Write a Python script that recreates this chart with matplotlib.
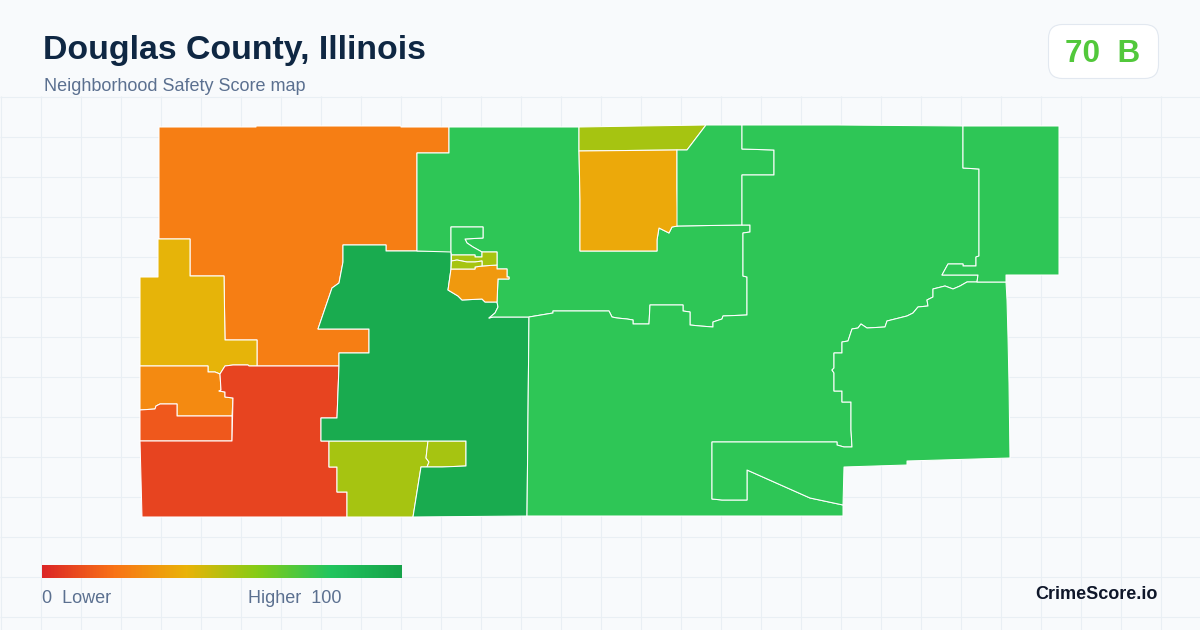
import numpy as np
import matplotlib
matplotlib.use("Agg")
import matplotlib.pyplot as plt
from matplotlib.collections import PolyCollection
from matplotlib.colors import LinearSegmentedColormap, Normalize
from matplotlib.patches import FancyBboxPatch

TITLE = "Douglas County, Illinois"
SUBTITLE = "Neighborhood Safety Score map"
BADGE_SCORE = 70
BADGE_TEXT = "70  B"
BRAND = "CrimeScore.io"

cmap_stops = [0.0, 0.2, 0.4, 0.6, 0.8, 1.0]
cmap_colors = ["#dc2626", "#f97316", "#eab308", "#84cc16", "#22c55e", "#16a34a"]

nw_orange = [(159,127),(256,127),(256,126),(401,126),(401,127),(449,127),(449,153),(417,153),(417,251),(386,251),(386,245),(343,245),(343,262),(339,283),(332,288),(318,329),(369,329),(369,353),(339,353),(339,366),(257,366),(257,340),(225,340),(224,276),(190,276),(190,239),(159,239)]
w_yellow = [(158,239),(190,239),(190,276),(224,276),(225,340),(257,340),(257,366),(249,366),(248,365),(233,365),(225,366),(220,374),(215,372),(208,372),(208,366),(140,366),(140,277),(158,277)]
w_orange = [(140,366),(208,366),(208,372),(215,372),(220,374),(221,390),(219,391),(225,392),(225,397),(233,398),(232,416),(177,416),(177,404),(160,404),(156,406),(155,409),(140,410)]
w_redorange = [(140,410),(155,409),(156,406),(160,404),(177,404),(177,416),(232,416),(232,441),(140,441)]
sw_red = [(140,441),(232,441),(233,398),(225,397),(225,392),(219,391),(221,390),(220,374),(225,366),(233,365),(248,365),(249,366),(339,366),(337,418),(321,418),(321,441),(329,441),(329,467),(337,467),(337,492),(347,492),(347,517),(142,517)]
s_lime_big = [(329,441),(428,441),(426,458),(429,462),(427,467),(421,467),(413,517),(347,517),(347,492),(337,492),(337,467),(329,467)]
s_lime_small = [(428,441),(466,441),(466,466),(442,467),(427,467),(429,462),(426,458)]
center_dark = [(343,245),(386,245),(386,251),(451,251),(451,269),(448,290),(453,293),(458,296),(462,300),(482,299),(485,302),(497,302),(498,307),(495,313),(489,318),(493,317),(529,317),(527,516),(413,517),(421,467),(427,467),(442,467),(466,466),(466,441),(321,441),(321,418),(337,418),(339,366),(339,353),(369,353),(369,329),(318,329),(332,288),(339,283),(343,262)]
north_green = [(417,153),(449,153),(449,127),(579,127),(579,151),(580,200),(580,251),(657,251),(657,240),(659,228),(663,230),(669,233),(672,227),(677,226),(742,225),(750,225),(750,232),(743,233),(743,276),(747,277),(747,315),(723,316),(722,319),(713,322),(713,327),(700,326),(690,325),(690,312),(683,311),(683,305),(650,305),(649,324),(633,324),(633,320),(627,319),(617,318),(612,317),(609,311),(553,311),(553,313),(529,317),(493,317),(489,318),(495,313),(498,307),(497,302),(498,279),(509,279),(509,277),(507,277),(507,269),(497,269),(497,252),(482,252),(473,247),(467,243),(465,239),(483,238),(483,227),(451,227),(451,252),(417,251)]
pocket_green = [(451,227),(483,227),(483,238),(465,239),(467,243),(473,247),(482,252),(482,257),(475,257),(475,255),(451.5,255),(451,252)]
town_orange = [(451,269),(475,269),(475,267),(482,266),(497,265),(497,269),(507,269),(507,277),(509,277),(509,279),(498,279),(497,302),(485,302),(482,299),(462,300),(458,296),(453,293),(448,290)]
town_lime_a = [(451.5,255),(475,255),(475,257),(482,257),(482,252),(497,252),(497,265),(482,266),(482,261),(475,262),(467,262),(457,260),(451.5,261)]
town_lime_b = [(451.5,261),(457,260),(467,262),(475,262),(482,261),(482,266),(475,267),(475,269),(451,269)]
n_lime = [(579,127),(640,126),(706,125),(687,150),(677,150),(579,151)]
n_yellow = [(579,151),(677,150),(677,188),(678,226),(672,227),(669,233),(663,230),(659,228),(657,240),(657,251),(580,251),(580,200)]
n_green2 = [(706,125),(742,125),(742,149),(774,150),(774,175),(742,175),(742,200),(742,225),(677,226),(677,150),(687,150)]
central_green = [(529,317),(553,313),(553,311),(609,311),(612,317),(617,318),(627,319),(633,320),(633,324),(649,324),(650,305),(683,305),(683,311),(690,312),(690,325),(700,326),(713,327),(713,322),(722,319),(723,316),(747,315),(747,277),(743,276),(743,233),(750,232),(750,225),(742,225),(742,175),(774,175),(774,150),(742,149),(742,125),(838,125),(963,126),(963,168),(979,169),(979,256),(976,257),(976,266),(963,266),(963,264),(948,264),(942,275),(978,275),(977,282),(967,282),(960,286),(953,289),(945,286),(937,288),(933,289),(933,297),(927,300),(928,306),(918,307),(913,313),(907,316),(887,321),(885,327),(867,328),(861,324),(858,328),(852,329),(848,341),(842,342),(842,353),(834,353),(834,368),(832,370),(834,373),(834,391),(842,391),(842,402),(851,402),(851,430),(852,447),(844,447),(837,445),(837,442),(712,442),(712,499),(722,500),(747,500),(747,470),(810,498),(843,505),(843,516),(527,516)]
east_green = [(1006,282),(977,282),(967,282),(960,286),(953,289),(945,286),(937,288),(933,289),(933,297),(927,300),(928,306),(918,307),(913,313),(907,316),(887,321),(885,327),(867,328),(861,324),(858,328),(852,329),(848,341),(842,342),(842,353),(834,353),(834,368),(832,370),(834,373),(834,391),(842,391),(842,402),(851,402),(851,430),(852,447),(844,447),(837,445),(837,442),(712,442),(712,499),(722,500),(747,500),(747,470),(810,498),(843,505),(844,467),(907,465),(907,461),(1010,458),(1009,383),(1008,337),(1007,300)]
ne_green = [(963,126),(1059,126),(1059,275),(1006,275),(1006,282),(977,282),(978,275),(942,275),(948,264),(963,264),(963,266),(976,266),(976,257),(979,256),(979,169),(963,168)]

regions = [nw_orange, w_yellow, w_orange, w_redorange, sw_red, s_lime_big, s_lime_small,
           center_dark, north_green, pocket_green, n_lime, n_yellow, n_green2,
           central_green, east_green, ne_green, town_orange, town_lime_a, town_lime_b]
scores = [23.5, 41, 27, 13, 8, 53.5, 53.5,
          95, 77.5, 77.5, 53.5, 37, 77.5,
          77.5, 77.5, 77.5, 32, 53.5, 53.5]

grid_x = np.arange(0, 1201, 40)
grid_y = np.arange(96, 631, 40)

cmap = LinearSegmentedColormap.from_list("safety", list(zip(cmap_stops, cmap_colors)))
norm = Normalize(0, 100)

fig = plt.figure(figsize=(12, 6.3), dpi=100, facecolor="#f8fafc")
ax = fig.add_axes([0, 0, 1, 1])
ax.set_facecolor("#f8fafc")
ax.axis("off")

ax.vlines(grid_x + 0.5, 96, 630, color="#e9eff4", lw=0.75, zorder=1)
ax.hlines(grid_y + 0.5, 0, 1200, color="#e9eff4", lw=0.75, zorder=1)

pc = PolyCollection(regions, array=np.array(scores), cmap=cmap, norm=norm,
                    edgecolors="white", linewidths=0.75, zorder=2)
ax.add_collection(pc)

# legend bar
ax.imshow(np.linspace(0, 100, 360)[None, :], cmap=cmap, norm=norm,
          extent=(42, 402, 578, 565), aspect="auto", zorder=2)
ax.set_xlim(0, 1200)
ax.set_ylim(630, 0)

sans = ["Liberation Sans", "DejaVu Sans"]
ax.text(43, 59, TITLE, fontsize=24.4, fontweight="bold", color="#0f2743",
        family=sans, va="baseline", ha="left", zorder=3)
ax.text(44, 91, SUBTITLE, fontsize=13, color="#5b7090", family=sans,
        va="baseline", ha="left", zorder=3)

ax.add_patch(FancyBboxPatch((1048.5, 24.5), 110, 54, boxstyle="round,pad=0,rounding_size=14",
                            facecolor="white", edgecolor="#e2e8f0", lw=0.8, zorder=3))
ax.text(1103, 62, BADGE_TEXT, fontsize=22.7, fontweight="bold", color=cmap(norm(BADGE_SCORE)),
        family=sans, va="baseline", ha="center", zorder=4)

ax.text(42, 603, "0  Lower", fontsize=13, color="#5b7090", family=sans,
        va="baseline", ha="left", zorder=3)
ax.text(342, 603, "Higher  100", fontsize=13, color="#5b7090", family=sans,
        va="baseline", ha="right", zorder=3)
ax.text(1158, 599, BRAND, fontsize=13, fontweight="bold", color="#0f172a", family=sans,
        va="baseline", ha="right", zorder=3)

fig.savefig("out.png", dpi=100, facecolor=fig.get_facecolor())
